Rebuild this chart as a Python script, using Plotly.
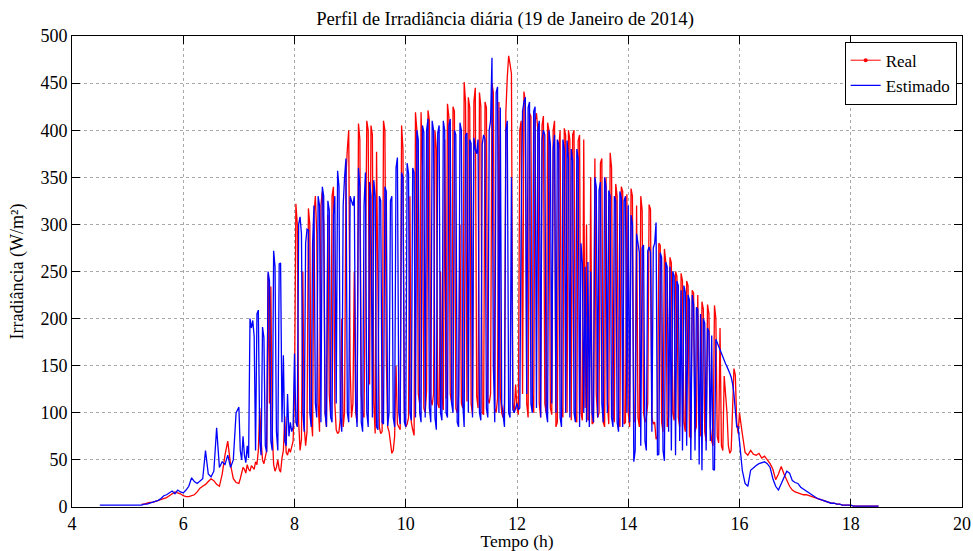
import numpy as np
import plotly.graph_objects as go

# ---------------- data (W/m²) ----------------
# Real (measured) irradiance
real_a_start, real_a_step = 5.25, 0.05
real_a = [3, 3, 4, 5, 5, 6, 7, 8, 9, 10,
          12, 14, 16, 15, 14, 12, 11, 11, 12, 13,
          16, 20, 22, 24, 27, 30, 28, 24, 22, 35,
          55, 70, 45, 30, 26]

real_b_start, real_b_step = 7.0, 0.025
real_b = [
    25, 30, 38, 42, 40, 36, 45, 40, 38, 44,
    42, 40, 48, 45, 60, 105, 70, 50, 46, 55,
    60, 247, 110, 234, 80, 45, 38, 42, 50, 40,
    37, 52, 60, 96, 58, 55, 62, 58, 66, 70,
    120, 322, 300, 90, 60, 72, 250, 85, 65, 80,
    317, 300, 95, 75, 310, 330, 290, 110, 80, 320,
    335, 300, 100, 85, 310, 120, 95, 330, 340, 110,
    82, 78, 80, 95, 200, 85, 100, 350, 380, 400,
    150, 95, 110, 250, 100, 90, 407, 390, 120, 100,
    95, 300, 410, 400, 130, 405, 395, 110, 78, 377,
    200, 85, 78, 80, 410, 400, 160, 85, 80, 70,
    57, 60, 75, 150, 88, 85, 82, 405, 380, 100,
    85, 88, 95, 330, 90, 82, 76, 419, 400, 120,
    110, 419, 360, 105, 100, 124, 421, 410, 115, 108,
    120, 400, 380, 110, 105, 250, 115, 103, 390, 115,
    428, 414, 120, 110, 425, 420, 105, 100, 118, 300,
    110, 105, 451, 430, 112, 435, 424, 110, 98, 430,
    445, 118, 105, 440, 425, 100, 98, 430, 424, 115,
    110, 120, 450, 440, 105, 100, 115, 430, 120, 100,
    95, 110, 420, 456, 479, 470, 460, 110, 100, 130,
    105, 98, 400, 410, 120, 441, 430, 110, 95, 418,
    415, 120, 100, 410, 418, 400, 110, 95, 405, 415,
    110, 100, 408, 400, 105, 98, 400, 410, 85, 90,
    380, 400, 105, 95, 402, 395, 100, 400, 390, 92,
    395, 400, 95, 90, 389, 395, 100, 92, 390, 105,
    300, 92, 95, 350, 88, 90, 370, 120, 95, 100,
    365, 370, 90, 85, 350, 110, 88, 376, 360, 100,
    90, 343, 330, 95, 85, 340, 335, 88, 90, 332,
    100, 85, 338, 330, 92, 90, 320, 95, 85, 330,
    315, 100, 90, 95, 110, 321, 316, 95, 88, 90,
    72, 75, 280, 278, 90, 80, 274, 260, 85, 95,
    265, 259, 100, 92, 250, 245, 95, 85, 248, 240,
    90, 80, 240, 235, 75, 73, 230, 227, 80, 85,
    225, 90, 75, 218, 210, 80, 70, 215, 205, 85,
    70, 65, 214, 200, 75, 68, 190, 65, 60, 139,
    120, 100, 65, 57, 60, 100, 147, 140, 90, 78]

real_c_start, real_c_step = 16.0, 0.05
real_c = [100, 78, 58, 55, 60, 56, 55, 57, 52, 54,
          50, 46, 40, 29, 35, 43, 35, 28, 22, 18,
          16, 15, 14, 13, 13, 12, 11, 10, 9, 8,
          7, 6, 5, 4, 4, 3, 3, 2, 2, 2,
          2, 1, 1, 1, 1, 1, 1, 1, 1, 1, 1]

# Estimado (estimated) irradiance
est_a_start, est_a_step = 4.5, 0.05
est_a = [2, 2, 2, 2, 2, 2, 2, 2, 2, 2,
         2, 2, 2, 2, 2, 2, 3, 3, 4, 5,
         6, 7, 9, 12, 13, 15, 17, 14, 18, 16,
         15, 18, 22, 31, 27, 25, 28, 30, 60, 35,
         32, 38, 84, 42, 48, 45, 55, 42, 50, 100]

est_b_start, est_b_step = 7.0, 0.025
est_b = [
    106, 60, 50, 75, 55, 47, 65, 52, 200, 190,
    198, 181, 60, 205, 209, 70, 55, 191, 180, 65,
    58, 250, 240, 70, 60, 272, 255, 80, 60, 258,
    259, 90, 161, 70, 65, 120, 75, 90, 80, 85,
    163, 90, 85, 300, 308, 290, 100, 80, 280, 295,
    294, 100, 85, 280, 320, 110, 95, 330, 320, 90,
    340, 330, 100, 85, 325, 315, 95, 90, 310, 330,
    110, 357, 340, 95, 80, 320, 350, 370, 100, 90,
    330, 325, 320, 330, 110, 85, 360, 340, 90, 80,
    320, 355, 100, 85, 345, 330, 95, 347, 330, 85,
    82, 330, 325, 90, 88, 340, 335, 86, 100, 325,
    330, 95, 85, 360, 371, 100, 88, 355, 350, 90,
    85, 365, 354, 100, 92, 360, 355, 95, 400, 390,
    100, 90, 405, 398, 95, 400, 412, 105, 90, 410,
    400, 95, 82, 397, 405, 100, 92, 410, 400, 100,
    95, 405, 412, 110, 100, 400, 395, 90, 85, 408,
    400, 110, 85, 395, 397, 100, 390, 386, 95, 392,
    380, 375, 390, 100, 92, 385, 395, 390, 105, 95,
    400, 410, 477, 150, 90, 440, 446, 100, 424, 110,
    95, 85, 400, 410, 100, 95, 350, 103, 100, 105,
    110, 103, 105, 300, 420, 430, 435, 120, 424, 430,
    110, 100, 420, 425, 105, 400, 410, 95, 390, 400,
    395, 100, 90, 400, 385, 110, 380, 395, 100, 390,
    385, 95, 85, 390, 380, 100, 389, 370, 95, 380,
    368, 100, 90, 380, 370, 85, 280, 258, 100, 255,
    90, 260, 85, 250, 100, 90, 350, 340, 95, 336,
    345, 110, 90, 350, 340, 100, 336, 330, 95, 85,
    330, 325, 90, 80, 335, 328, 85, 325, 330, 100,
    320, 90, 310, 300, 48, 60, 290, 280, 270, 65,
    275, 278, 70, 60, 272, 276, 270, 80, 275, 280,
    302, 55, 56, 270, 265, 60, 49, 260, 255, 80,
    255, 60, 250, 245, 55, 240, 235, 70, 230, 60,
    235, 228, 65, 225, 220, 50, 225, 215, 60, 212,
    210, 45, 205, 39, 200, 195, 60, 190, 186, 70,
    182, 40, 39, 178, 174, 170, 166, 162, 158, 155,
    152, 149, 146, 142, 138, 131, 120, 100, 85, 85]

est_c_start, est_c_step = 16.0, 0.05
est_c = [70, 39, 25, 22, 39, 42, 44, 46, 47, 48,
         46, 42, 30, 22, 18, 25, 32, 38, 36, 28,
         26, 25, 21, 19, 17, 15, 13, 11, 9, 8,
         7, 6, 5, 4, 4, 3, 3, 2, 2, 2,
         2, 1, 1, 1, 1, 1, 1, 1, 1, 1, 1]

x_ticks = [4, 6, 8, 10, 12, 14, 16, 18, 20]
y_ticks = [0, 50, 100, 150, 200, 250, 300, 350, 400, 450, 500]


def sampled(segments):
    xs, ys = [], []
    for start, step, vals in segments:
        xs.extend((start + step * np.arange(len(vals))).tolist())
        ys.extend(vals)
    return xs, ys


rx, ry = sampled([(real_a_start, real_a_step, real_a),
                  (real_b_start, real_b_step, real_b),
                  (real_c_start, real_c_step, real_c)])
ex, ey = sampled([(est_a_start, est_a_step, est_a),
                  (est_b_start, est_b_step, est_b),
                  (est_c_start, est_c_step, est_c)])

FONT = "Liberation Serif, Times New Roman, serif"
RED = "#ff0000"
BLUE = "#0000ff"
LW = 1.3
W, H = 973, 551

fig = go.Figure()
fig.add_trace(go.Scatter(x=rx, y=ry, mode="lines", line=dict(color=RED, width=LW),
                         name="Real", showlegend=False))
fig.add_trace(go.Scatter(x=[None], y=[None], mode="lines+markers",
                         line=dict(color=RED, width=1),
                         marker=dict(color=RED, size=4), name="Real"))
fig.add_trace(go.Scatter(x=ex, y=ey, mode="lines", line=dict(color=BLUE, width=LW),
                         name="Estimado"))

axis_common = dict(
    showline=True, linecolor="black", linewidth=1, mirror="allticks",
    ticks="inside", ticklen=8, tickcolor="black",
    showgrid=True, gridcolor="#a8a8a8", griddash="dot", gridwidth=1,
    zeroline=False, automargin=False,
    tickfont=dict(family=FONT, size=18, color="black"),
)

fig.update_layout(
    width=W, height=H,
    margin=dict(l=72, r=11, t=36, b=44),
    paper_bgcolor="white", plot_bgcolor="white",
    font=dict(family=FONT, color="black"),
    title=dict(text="Perfil de Irradiância diária (19 de Janeiro de 2014)",
               x=505 / W, xanchor="center", y=1 - 18 / H, yanchor="middle",
               font=dict(family=FONT, size=18.7, color="black")),
    xaxis=dict(range=[4, 20], tickvals=x_ticks,
               title=dict(text="Tempo (h)", font=dict(family=FONT, size=17.5), standoff=7),
               **axis_common),
    yaxis=dict(range=[0, 500], tickvals=y_ticks,
               title=dict(text="Irradiância (W/m²)", font=dict(family=FONT, size=18), standoff=12),
               **axis_common),
    legend=dict(x=0.994, y=0.988, xanchor="right", yanchor="top",
                bgcolor="white", bordercolor="black", borderwidth=1,
                font=dict(family=FONT, size=17, color="black"),
                tracegroupgap=0, itemwidth=30),
    showlegend=True,
)

fig.write_html(
    "out.html",
    config={"displayModeBar": False},
    post_script="document.body.style.margin='0';document.body.style.overflow='hidden';",
)
